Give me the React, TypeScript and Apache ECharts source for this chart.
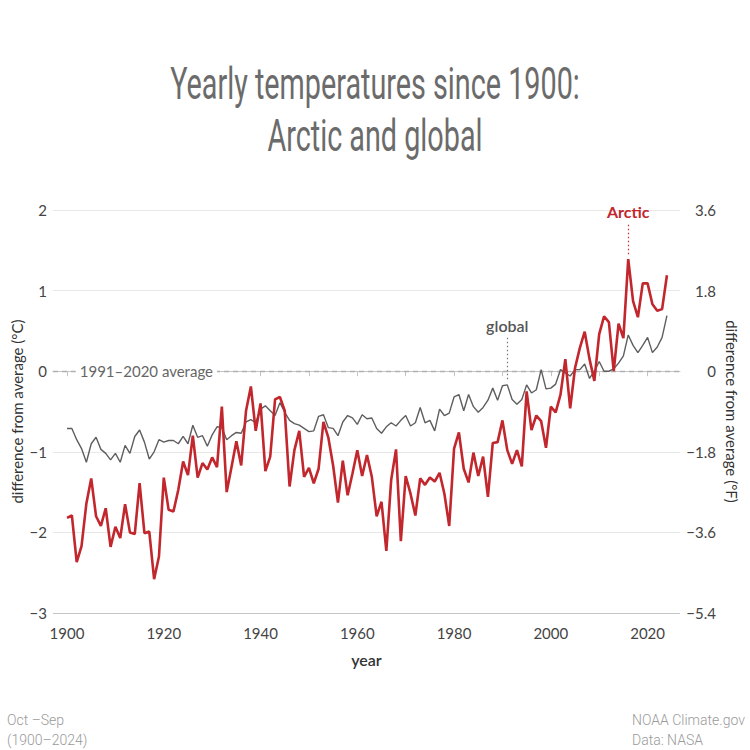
import React, { useEffect, useRef } from "react";
import * as echarts from "echarts";

const START_YEAR = 1900;

const arctic = [
  -1.82, -1.79, -2.37, -2.17, -1.64, -1.33, -1.80, -1.92, -1.70, -2.18,
  -1.93, -2.07, -1.65, -2.00, -2.02, -1.39, -2.01, -1.99, -2.58, -2.30,
  -1.32, -1.72, -1.74, -1.47, -1.12, -1.29, -0.80, -1.32, -1.14, -1.22,
  -1.07, -1.19, -0.44, -1.50, -1.19, -0.87, -1.17, -0.49, -0.19, -0.74,
  -0.40, -1.24, -1.06, -0.35, -0.32, -0.49, -1.43, -0.98, -0.74, -1.31,
  -1.20, -1.39, -1.21, -0.63, -0.82, -1.17, -1.63, -1.11, -1.54, -1.27,
  -0.98, -1.30, -1.04, -1.31, -1.80, -1.62, -2.23, -1.35, -0.97, -2.11,
  -1.30, -1.52, -1.79, -1.33, -1.41, -1.32, -1.37, -1.26, -1.52, -1.92,
  -0.96, -0.76, -1.21, -1.38, -1.01, -1.30, -1.06, -1.56, -0.89, -0.88,
  -0.61, -0.98, -1.15, -0.98, -1.18, -0.25, -0.73, -0.55, -0.62, -0.95,
  -0.44, -0.51, -0.29, 0.15, -0.46, 0.04, 0.29, 0.49, 0.15, -0.12,
  0.46, 0.68, 0.61, 0.0, 0.59, 0.41, 1.39, 0.87, 0.67, 1.09,
  1.09, 0.83, 0.75, 0.77, 1.19,
];

const globalT = [
  -0.71, -0.71, -0.85, -0.96, -1.13, -0.90, -0.82, -0.97, -1.02, -1.10,
  -1.02, -1.13, -0.92, -1.02, -0.81, -0.73, -0.88, -1.09, -1.00, -0.85,
  -0.88, -0.86, -0.86, -0.90, -0.81, -0.90, -0.67, -0.82, -0.80, -0.93,
  -0.79, -0.69, -0.70, -0.85, -0.80, -0.76, -0.77, -0.63, -0.60, -0.64,
  -0.47, -0.43, -0.49, -0.55, -0.39, -0.51, -0.61, -0.65, -0.67, -0.71,
  -0.75, -0.74, -0.56, -0.54, -0.70, -0.71, -0.80, -0.63, -0.55, -0.58,
  -0.66, -0.54, -0.59, -0.58, -0.71, -0.77, -0.69, -0.64, -0.68, -0.61,
  -0.55, -0.68, -0.64, -0.45, -0.64, -0.61, -0.74, -0.47, -0.55, -0.52,
  -0.32, -0.29, -0.49, -0.29, -0.44, -0.51, -0.45, -0.36, -0.21, -0.36,
  -0.18, -0.17, -0.35, -0.41, -0.35, -0.17, -0.27, -0.23, 0.02, -0.22,
  -0.21, -0.16, 0.02, -0.02, -0.06, 0.02, 0.02, 0.09, -0.09, 0.0,
  0.12, 0.0, 0.0, 0.03, 0.10, 0.19, 0.45, 0.32, 0.23, 0.32,
  0.42, 0.23, 0.30, 0.42, 0.69,
];

const xTickYears = [1900, 1910, 1920, 1930, 1940, 1950, 1960, 1970, 1980, 1990, 2000, 2010, 2020];
const xLabelYears = [1900, 1920, 1940, 1960, 1980, 2000, 2020];

const TITLE = ["Yearly temperatures since 1900:", "Arctic and global"];
const FOOT_LEFT = ["Oct –Sep", "(1900–2024)"];
const FOOT_RIGHT = ["NOAA Climate.gov", "Data: NASA"];

const RED = "#c1272d";
const GRAY = "#5e5e5e";
const FONT = "Lato, 'Noto Sans', sans-serif";

function measure(text: string, font: string): number {
  const c = document.createElement("canvas").getContext("2d");
  if (!c) return 1;
  c.font = font;
  return c.measureText(text).width || 1;
}

const minus = (s: string) => s.replace("-", "−");

export default function App() {
  const ref = useRef<HTMLDivElement>(null);
  useEffect(() => {
    if (!ref.current) return;
    const chart = echarts.init(ref.current, null, { renderer: "svg" });

    const titleFont = "400 44px Roboto";
    const titleScale = 410 / measure(TITLE[0], titleFont);
    const footFont = "300 14px Roboto";
    const footScale = 113 / measure(FOOT_RIGHT[0], footFont);

    const arcticData = arctic.map((v, i) => [START_YEAR + i, v]);
    const globalData = globalT.map((v, i) => [START_YEAR + i, v]);

    const titleEl = (text: string, y: number) => ({
      type: "text",
      x: 375,
      y,
      scaleX: titleScale,
      style: {
        text,
        x: 0,
        y: 0,
        font: titleFont,
        fill: "#6b6b6b",
        align: "center",
        verticalAlign: "middle",
        textAlign: "center",
        textVerticalAlign: "middle",
      },
    });
    const footEl = (text: string, x: number, y: number) => ({
      type: "text",
      x,
      y,
      scaleX: footScale,
      style: {
        text,
        x: 0,
        y: 0,
        font: footFont,
        fill: "#9a9a9a",
        align: "left",
        verticalAlign: "middle",
        textAlign: "left",
        textVerticalAlign: "middle",
      },
    });

    chart.setOption({
      animation: false,
      backgroundColor: "#ffffff",
      textStyle: { fontFamily: FONT },
      grid: { left: 53, right: 70, top: 210, bottom: 137, outerBoundsMode: "none", containLabel: false },
      graphic: [
        titleEl(TITLE[0], 84),
        titleEl(TITLE[1], 136),
        footEl(FOOT_LEFT[0], 7, 720),
        footEl(FOOT_LEFT[1], 7, 740),
        footEl(FOOT_RIGHT[0], 632, 720),
        footEl(FOOT_RIGHT[1], 632, 740),
      ],
      xAxis: {
        type: "value",
        min: 1897.1,
        max: 2026.7,
        name: "year",
        nameLocation: "middle",
        nameGap: 38,
        nameMoveOverlap: false,
        nameTextStyle: { fontSize: 16, fontWeight: 600, color: "#333", fontFamily: FONT },
        axisLine: { show: true, lineStyle: { color: "#c4c4c4", width: 1 } },
        axisTick: { show: true, customValues: xTickYears, length: 5, lineStyle: { color: "#c4c4c4" } },
        axisLabel: {
          customValues: xLabelYears,
          color: "#444",
          fontSize: 15,
          margin: 12,
          fontFamily: FONT,
          formatter: (v: number) => String(v),
        },
        splitLine: { show: false },
      },
      yAxis: [
        {
          type: "value",
          min: -3,
          max: 2,
          interval: 1,
          position: "left",
          name: "difference from average (°C)",
          nameLocation: "middle",
          nameGap: 29,
          nameMoveOverlap: false,
          nameTextStyle: { fontSize: 15, color: "#333", fontFamily: FONT },
          axisLine: { show: false },
          axisTick: { show: false },
          axisLabel: {
            color: "#444",
            fontSize: 15,
            margin: 6,
            fontFamily: FONT,
            formatter: (v: number) => minus(String(v)),
          },
          splitLine: {
            show: true,
            lineStyle: {
              color: ["#c4c4c4", "#e8e8e8", "#e8e8e8", "rgba(0,0,0,0)", "#e8e8e8", "#e8e8e8"],
              width: 1,
            },
          },
        },
        {
          type: "value",
          min: -5.4,
          max: 3.6,
          interval: 1.8,
          position: "right",
          name: "difference from average (°F)",
          nameLocation: "middle",
          nameGap: 44,
          nameRotate: -90,
          nameMoveOverlap: false,
          nameTextStyle: { fontSize: 15, color: "#333", fontFamily: FONT },
          axisLine: { show: false },
          axisTick: { show: false },
          axisLabel: {
            color: "#444",
            fontSize: 15,
            margin: 36,
            align: "right",
            fontFamily: FONT,
            formatter: (v: number) => minus(String(Math.round(v * 10) / 10)),
          },
          splitLine: { show: false },
        },
      ],
      series: [
        {
          name: "global",
          type: "line",
          yAxisIndex: 0,
          data: globalData,
          showSymbol: false,
          symbol: "none",
          z: 3,
          lineStyle: { color: GRAY, width: 1.4 },
          markLine: {
            silent: true,
            symbol: ["none", "none"],
            z: 1,
            data: [
              {
                yAxis: 0,
                lineStyle: { color: "#b0b0b0", type: [5, 4], width: 1.3 },
                label: { show: false },
              },
              [
                {
                  coord: [1991, -0.1],
                  lineStyle: { color: "#777", type: [1.5, 2.5], width: 1.2 },
                  label: {
                    show: true,
                    position: "end",
                    formatter: "global",
                    color: "#555",
                    fontSize: 16,
                    fontWeight: 600,
                    fontFamily: FONT,
                    distance: 4,
                  },
                },
                { coord: [1991, 0.42] },
              ],
            ],
          },
          markPoint: {
            silent: true,
            z: 2,
            symbol: "rect",
            symbolSize: 0,
            data: [
              {
                coord: [1901.8, 0],
                label: {
                  show: true,
                  position: "right",
                  distance: 0,
                  formatter: "1991–2020 average",
                  color: "#666",
                  fontSize: 15,
                  fontFamily: FONT,
                  backgroundColor: "#ffffff",
                  padding: [1, 4],
                },
              },
            ],
          },
        },
        {
          name: "Arctic",
          type: "line",
          yAxisIndex: 0,
          data: arcticData,
          showSymbol: false,
          symbol: "none",
          z: 4,
          lineStyle: { color: RED, width: 2.6 },
          markLine: {
            silent: true,
            symbol: ["none", "none"],
            z: 1,
            lineStyle: { color: RED, type: [1.5, 2.5], width: 1.2 },
            label: {
              show: true,
              position: "end",
              formatter: "Arctic",
              color: RED,
              fontSize: 16,
              fontWeight: "bold",
              fontFamily: FONT,
              distance: 4,
            },
            data: [[{ coord: [2016, 1.45] }, { coord: [2016, 1.83] }]],
          },
        },
      ],
    });
    return () => chart.dispose();
  }, []);
  return (
    <div
      ref={ref}
      style={{ position: "absolute", left: 0, top: 0, width: 750, height: 750 }}
    />
  );
}
